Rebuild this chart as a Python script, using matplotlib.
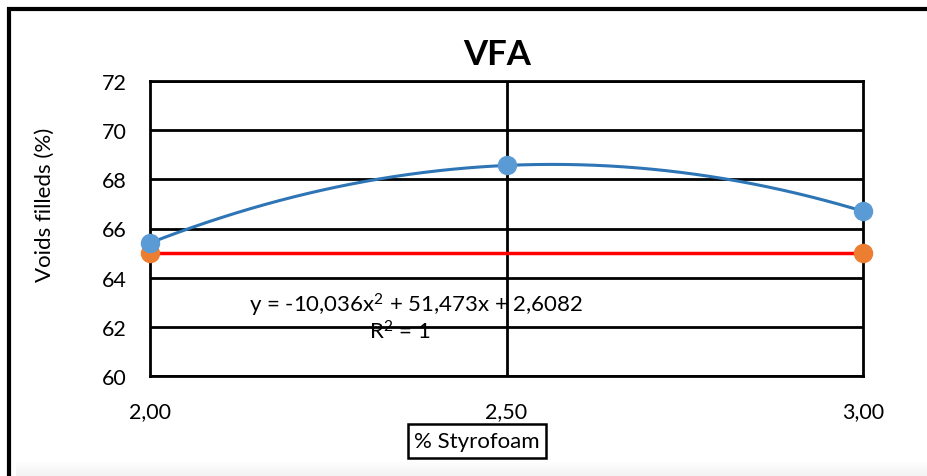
import numpy as np
import matplotlib.pyplot as plt
from matplotlib.patches import Rectangle

plt.rcParams['font.family'] = ['Lato', 'DejaVu Sans']
plt.rcParams['mathtext.fontset'] = 'custom'
plt.rcParams['mathtext.rm'] = 'Lato'
plt.rcParams['mathtext.it'] = 'Lato'
plt.rcParams['mathtext.default'] = 'regular'

# styrofoam content (%) and measured VFA
styrofoam = [2.0, 2.5, 3.0]
vfa = [65.41, 68.57, 66.70]

# specification limit (65 %)
limit_x = [2.0, 3.0]
limit_y = [65.0, 65.0]

# polynomial trendline coefficients
coef = [-10.036, 51.473, 2.6082]

y_ticks = [60, 62, 64, 66, 68, 70, 72]
x_ticks = [2.0, 2.5, 3.0]
x_labels = ['2,00', '2,50', '3,00']

fig = plt.figure(figsize=(9.28, 4.77), dpi=100)

# outer chart frame with a soft shadow at the bottom
fig.patches.append(Rectangle((9 / 928, -0.05), 1.1, 1 - 10 / 477 + 0.05,
                             transform=fig.transFigure, fill=False,
                             edgecolor='black', linewidth=3))
for i in range(14):
    fig.patches.append(Rectangle((16 / 928, (14 - i) / 477 - 1 / 477), 1.0, 1 / 477,
                                 transform=fig.transFigure, facecolor='#bbbbbb',
                                 alpha=0.02 + i * 0.012, edgecolor='none'))

ax = fig.add_axes([150 / 928, 1 - 377 / 477, 713 / 928, 295 / 477])

xs = np.linspace(2.0, 3.0, 200)
ax.plot(xs, np.polyval(coef, xs), color='#2e75b6', linewidth=2.2, zorder=3)
ax.plot(limit_x, limit_y, color='#ff0000', linewidth=2.5, zorder=3)
ax.plot(limit_x, limit_y, 'o', color='#ed7d31', markersize=13, zorder=4,
        linestyle='none', clip_on=False)
ax.plot(styrofoam, vfa, 'o', color='#5b9bd5', markersize=13, zorder=5,
        linestyle='none', clip_on=False)

ax.set_xlim(2.0, 3.0)
ax.set_ylim(60, 72)
ax.set_yticks(y_ticks)
ax.set_xticks(x_ticks)
ax.set_xticklabels(x_labels)
ax.tick_params(length=0, labelsize=15.5)
ax.tick_params(axis='y', pad=17)
ax.tick_params(axis='x', pad=18)

for yv in y_ticks:
    ax.axhline(yv, color='black', linewidth=2, zorder=1)
ax.axvline(2.5, color='black', linewidth=2, zorder=1)
for s in ax.spines.values():
    s.set_linewidth(2)

fig.text(497 / 928, 1 - 55 / 477, 'VFA', ha='center', va='center',
         fontsize=25, fontweight='bold')

ax.text(0.373, 62.93, 'y = -10,036x$^2$ + 51,473x + 2,6082', transform=ax.get_yaxis_transform(),
        ha='center', va='center', fontsize=16, zorder=6)
ax.text(0.35, 61.85, 'R$^2$ = 1', transform=ax.get_yaxis_transform(),
        ha='center', va='center', fontsize=16, zorder=6)

fig.text(477 / 928, 1 - 442 / 477, '% Styrofoam', ha='center', va='center', fontsize=16,
         bbox=dict(boxstyle='square,pad=0.3', facecolor='white', edgecolor='black', linewidth=1.8))
fig.text(45 / 928, 1 - 205 / 477, 'Voids filleds (%)', ha='center', va='center',
         rotation=90, fontsize=16)

fig.savefig('out.png', dpi=100)
